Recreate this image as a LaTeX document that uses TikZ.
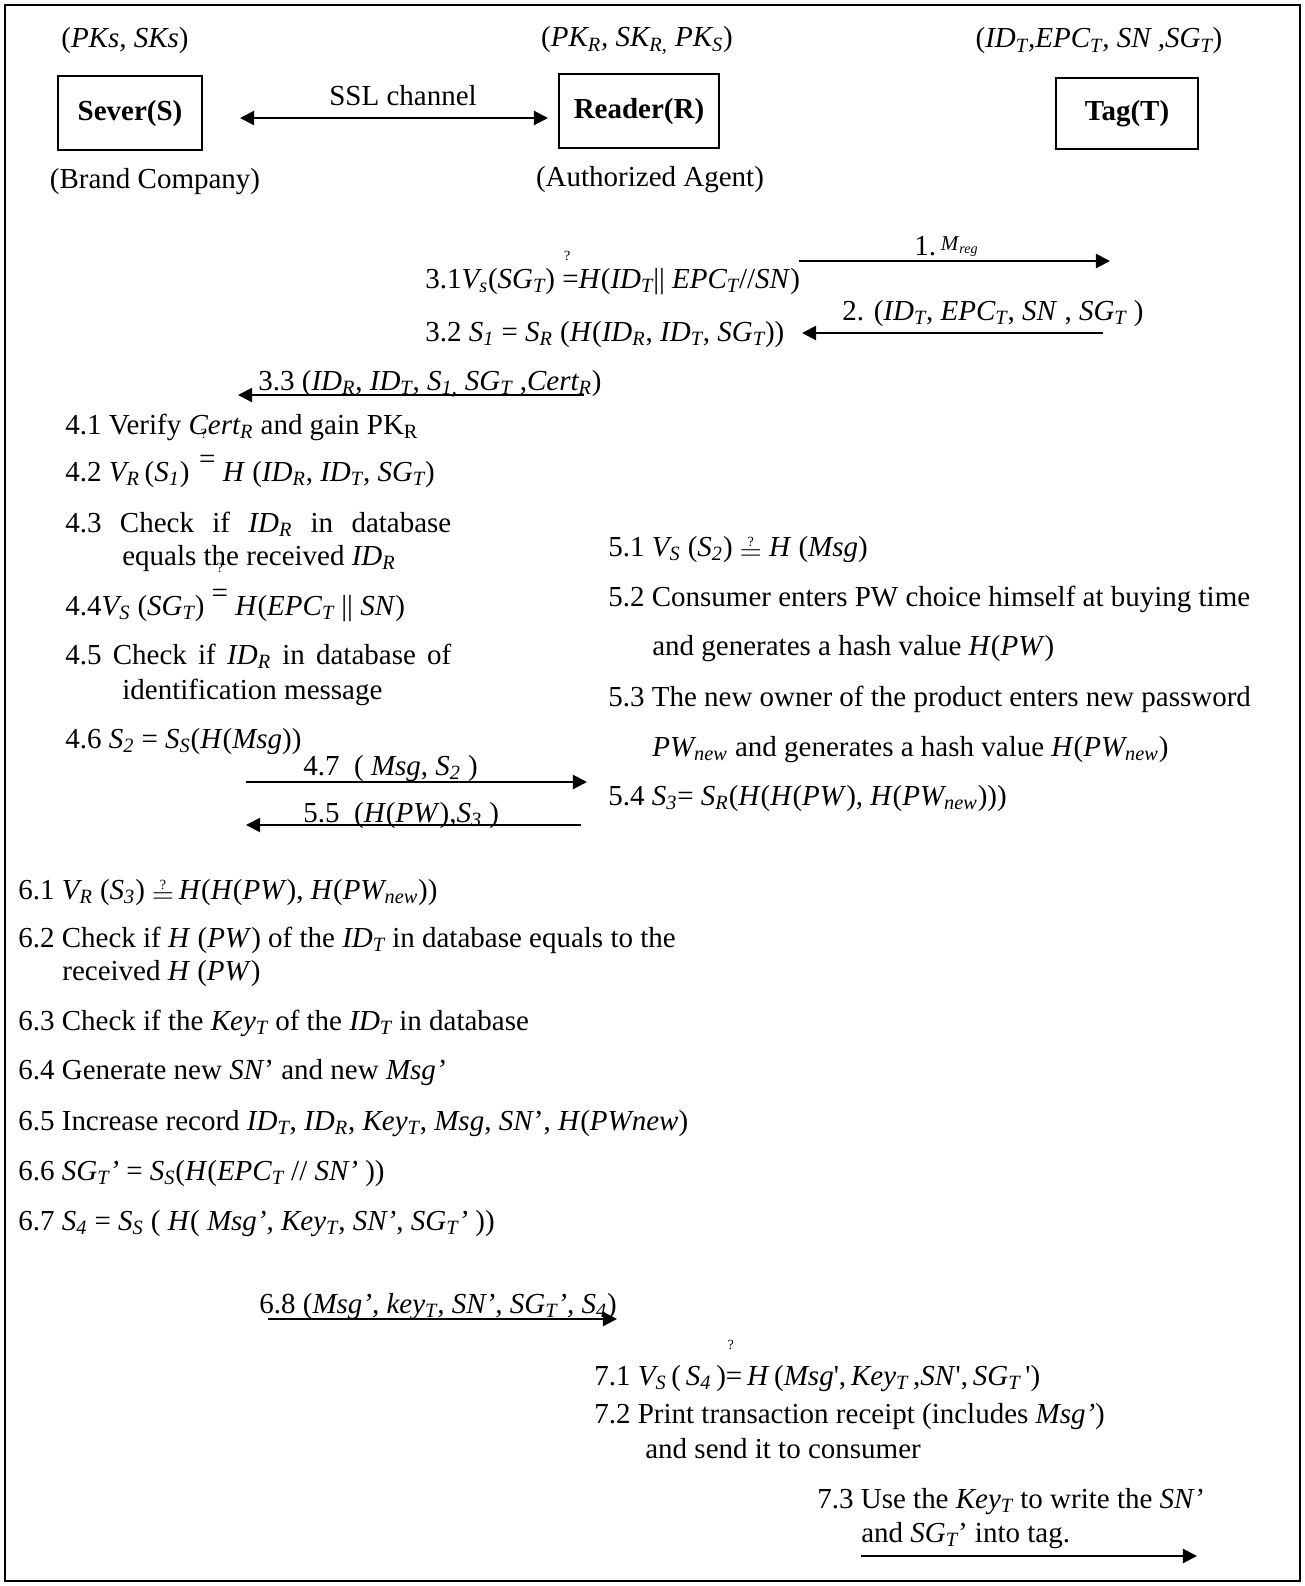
\documentclass[tikz,border=0pt]{standalone}
\usepackage{fontspec}
\setmainfont{Liberation Serif}
\usepackage{tikz}
\usetikzlibrary{arrows.meta}
\newcommand{\figfont}{\fontsize{16.5}{19.8}\selectfont}
\newcommand{\lo}[1]{\textsubscript{#1}}
\newcommand{\qeq}{\raisebox{-0.3ex}{$\stackrel{\mbox{\fontsize{8}{9}\selectfont ?}}{=}$}}
\newcommand{\qhi}[1]{\makebox[0pt][l]{\hspace{1pt}\raisebox{#1}{\fontsize{8}{9}\selectfont ?}}}

\begin{document}
\begin{tikzpicture}[
    ent/.style={rectangle, draw, line width=1.1pt, minimum height=1.48cm, text height=0.9em, text depth=0.1em, font=\figfont\bfseries},
    lbl/.style={inner sep=0pt, yshift=-0.05cm, font=\figfont},
    txt/.style={anchor=west, inner sep=0pt, yshift=-0.1cm, text height=0.7em, text depth=0.2em, font=\figfont},
    qm/.style={inner sep=0pt, font=\fontsize{8}{9}\selectfont},
    msg/.style={-{Triangle[length=8pt,width=8pt]}, line width=1.2pt},
    dmsg/.style={{Triangle[length=8pt,width=8pt]}-{Triangle[length=8pt,width=8pt]}, line width=1.2pt}
]
    \useasboundingbox (0,0) rectangle (26.08,-31.72);
    \draw[line width=1.2pt] (0.1,-0.1) rectangle (26.0,-31.62);

    % Parties
    \node[ent, minimum width=2.88cm] (sever) at (2.6,-2.26) {Sever(S)};
    \node[ent, minimum width=3.2cm] (reader) at (12.78,-2.22) {Reader(R)};
    \node[ent, minimum width=2.84cm, minimum height=1.42cm] (tag) at (22.54,-2.27) {Tag(T)};
    \node[lbl] (keyS) at (2.5,-0.76) {(\textit{PKs, SKs})};
    \node[lbl] (keyR) at (12.74,-0.76) {(\textit{PK\lo{R}, SK\lo{R,} PK\lo{S}})};
    \node[lbl] (keyT) at (21.98,-0.76) {(\textit{ID\lo{T},EPC\lo{T}, SN ,SG\lo{T}})};
    \node[lbl] (roleS) at (3.1,-3.58) {(Brand Company)};
    \node[lbl] (roleR) at (13.0,-3.54) {(Authorized Agent)};
    \node[lbl] (ssl) at (8.06,-1.86) {SSL channel};

    % Registration
    \node[txt] (m1) at (18.28,-4.92) {1.\,\raisebox{3pt}{\fontsize{12}{14}\selectfont\textit{M}\lo{\textit{reg}}}};
    \node[txt] (s31) at (8.5,-5.58) {3.1\textit{V\lo{s}}(\textit{SG\lo{T}}) \qhi{0.95em}=\textit{H}(\textit{ID\lo{T}}|| \textit{EPC\lo{T}}//\textit{SN})};
    \node[txt] (m2) at (16.84,-6.22) {2. (\textit{ID\lo{T}}, \textit{EPC\lo{T}}, \textit{SN} , \textit{SG\lo{T}} )};
    \node[txt] (s32) at (8.5,-6.64) {3.2 \textit{S\lo{1}} = \textit{S\lo{R}} (\textit{H}(\textit{ID\lo{R}}, \textit{ID\lo{T}}, \textit{SG\lo{T}}))};
    \node[txt] (m33) at (5.16,-7.62) {3.3 (\textit{ID\lo{R}}, \textit{ID\lo{T}}, \textit{S\lo{1,}} \textit{SG\lo{T}} ,\textit{Cert\lo{R}})};

    % Server checks
    \node[txt] (s41) at (1.3,-8.5) {4.1 Verify \textit{Cert\lo{R}} and gain PK\lo{R}};
    \node[qm] (q41) at (4.08,-8.68) {?};
    \node[txt] (s42) at (1.3,-9.44) {4.2 \textit{V\lo{R}}\,(\textit{S\lo{1}})\,\,\raisebox{0.45em}{=} \textit{H} (\textit{ID\lo{R}}, \textit{ID\lo{T}}, \textit{SG\lo{T}})};
    \node[txt] (s43) at (1.3,-10.46) {\makebox[7.72cm][s]{4.3 Check if \textit{ID\lo{R}} in database}};
    \node[txt] (s43b) at (2.44,-11.12) {equals the received \textit{ID\lo{R}}};
    \node[qm] (q43) at (4.4,-11.36) {?};
    \node[txt] (s44) at (1.3,-12.12) {4.4\textit{V\lo{S}} (\textit{SG\lo{T}}) \raisebox{0.45em}{=} \textit{H}(\textit{EPC\lo{T}} || \textit{SN})};
    \node[txt] (s45) at (1.3,-13.1) {\makebox[7.72cm][s]{4.5 Check if \textit{ID\lo{R}} in database of}};
    \node[txt] (s45b) at (2.44,-13.8) {identification message};
    \node[txt] (s46) at (1.3,-14.78) {4.6 \textit{S\lo{2}} = \textit{S\lo{S}}(\textit{H}(\textit{Msg}))};
    \node[txt] (m47) at (6.06,-15.32) {4.7~ ( \textit{Msg}, \textit{S\lo{2}} )};
    \node[txt] (m55) at (6.06,-16.26) {5.5~ (\textit{H}(\textit{PW}),\textit{S\lo{3}} )};

    % Reader and consumer
    \node[txt] (s51) at (12.16,-10.94) {5.1 \textit{V\lo{S}} (\textit{S\lo{2}}) \qeq\ \textit{H} (\textit{Msg})};
    \node[txt] (s52) at (12.16,-11.94) {5.2 Consumer enters PW choice himself at buying time};
    \node[txt] (s52b) at (13.04,-12.92) {and generates a hash value \textit{H}(\textit{PW})};
    \node[txt] (s53) at (12.16,-13.94) {5.3 The new owner of the product enters new password};
    \node[txt] (s53b) at (13.04,-14.94) {\textit{PW\lo{new}} and generates a hash value \textit{H}(\textit{PW\lo{new}})};
    \node[txt] (s54) at (12.16,-15.92) {5.4 \textit{S\lo{3}}= \textit{S\lo{R}}(\textit{H}(\textit{H}(\textit{PW}), \textit{H}(\textit{PW\lo{new}})))};

    % Server update
    \node[txt] (s61) at (0.36,-17.8) {6.1 \textit{V\lo{R}} (\textit{S\lo{3}}) \qeq\,\textit{H}(\textit{H}(\textit{PW}), \textit{H}(\textit{PW\lo{new}}))};
    \node[txt] (s62) at (0.36,-18.76) {6.2 Check if \textit{H} (\textit{PW}) of the \textit{ID\lo{T}} in database equals to the};
    \node[txt] (s62b) at (1.24,-19.42) {received \textit{H} (\textit{PW})};
    \node[txt] (s63) at (0.36,-20.42) {6.3 Check if the \textit{Key\lo{T}} of the \textit{ID\lo{T}} in database};
    \node[txt] (s64) at (0.36,-21.4) {6.4 Generate new \textit{SN}’ and new \textit{Msg’}};
    \node[txt] (s65) at (0.36,-22.42) {6.5 Increase record \textit{ID\lo{T}}, \textit{ID\lo{R}}, \textit{Key\lo{T}}, \textit{Msg}, \textit{SN}’, \textit{H}(\textit{PWnew})};
    \node[txt] (s66) at (0.36,-23.42) {6.6 \textit{SG\lo{T}’} = \textit{S\lo{S}}(\textit{H}(\textit{EPC\lo{T}} // \textit{SN’} ))};
    \node[txt] (s67) at (0.36,-24.42) {6.7 \textit{S\lo{4}} = \textit{S\lo{S}} ( \textit{H}( \textit{Msg’}, \textit{Key\lo{T}}, \textit{SN’}, \textit{SG\lo{T}’} ))};
    \node[txt] (m68) at (5.18,-26.08) {6.8 (\textit{Msg’, key\lo{T}, SN’, SG\lo{T}’, S\lo{4}})};

    % Writing the tag
    \node[txt] (s71) at (11.88,-27.52) {7.1 \textit{V\lo{S}}\,(\,\textit{S\lo{4}}\,)\qhi{1.25em}=\,\textit{H}\,(\textit{Msg}\textquotesingle,\,\textit{Key\lo{T}}\,,\textit{SN}\textquotesingle,\,\textit{SG\lo{T}}\,\textquotesingle)};
    \node[txt] (s72) at (11.88,-28.28) {7.2 Print transaction receipt (includes \textit{Msg’})};
    \node[txt] (s72b) at (12.9,-28.98) {and send it to consumer};
    \node[txt] (s73) at (16.34,-29.98) {7.3 Use the \textit{Key\lo{T}} to write the \textit{SN’}};
    \node[txt] (s73b) at (17.22,-30.66) {and \textit{SG\lo{T}}’ into tag.};

    % Arrow ends
    \coordinate (sslL) at (4.8,-2.36);
    \coordinate (sslR) at (10.96,-2.36);
    \coordinate (m1a) at (15.98,-5.22);
    \coordinate (m1b) at (22.2,-5.22);
    \coordinate (m2a) at (22.06,-6.66);
    \coordinate (m2b) at (16.04,-6.66);
    \coordinate (m33a) at (11.68,-7.9);
    \coordinate (m33b) at (4.76,-7.9);
    \coordinate (m47a) at (4.92,-15.64);
    \coordinate (m47b) at (11.74,-15.64);
    \coordinate (m55a) at (11.62,-16.5);
    \coordinate (m55b) at (4.92,-16.5);
    \coordinate (m68a) at (5.36,-26.38);
    \coordinate (m68b) at (12.34,-26.38);
    \coordinate (m73a) at (17.22,-31.12);
    \coordinate (m73b) at (23.94,-31.12);

    % Arrows
    \draw[dmsg] (sslL) -- (sslR);
    \draw[msg] (m1a) -- (m1b);
    \draw[msg] (m2a) -- (m2b);
    \draw[msg] (m33a) -- (m33b);
    \draw[msg] (m47a) -- (m47b);
    \draw[msg] (m55a) -- (m55b);
    \draw[msg] (m68a) -- (m68b);
    \draw[msg] (m73a) -- (m73b);
\end{tikzpicture}
\end{document}
